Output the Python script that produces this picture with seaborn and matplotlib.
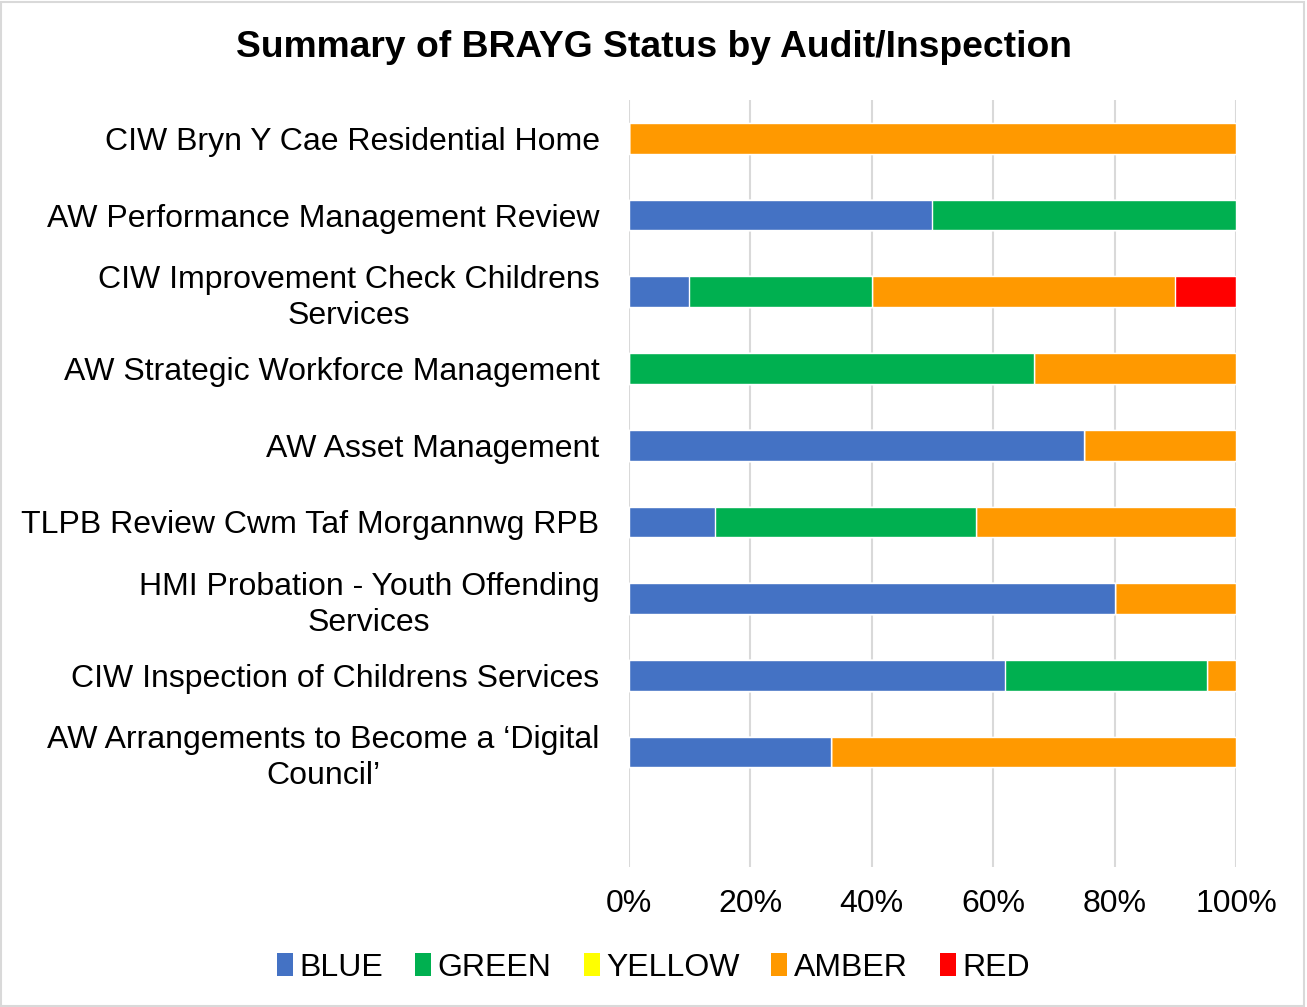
import numpy as np
import pandas as pd
import seaborn as sns
import matplotlib.pyplot as plt
from matplotlib.patches import Patch, Rectangle
from matplotlib.ticker import PercentFormatter

categories = [
    "CIW Bryn Y Cae Residential Home",
    "AW Performance Management Review",
    "CIW Improvement Check Childrens\nServices",
    "AW Strategic Workforce Management",
    "AW Asset Management",
    "TLPB Review Cwm Taf Morgannwg RPB",
    "HMI Probation - Youth Offending\nServices",
    "CIW Inspection of Childrens Services",
    "AW Arrangements to Become a \u2018Digital\nCouncil\u2019",
]
# counts of recommendations per status
blue = [0, 1, 1, 0, 3, 1, 4, 13, 1]
green = [0, 1, 3, 2, 0, 3, 0, 7, 0]
yellow = [0, 0, 0, 0, 0, 0, 0, 0, 0]
amber = [1, 0, 5, 1, 1, 3, 1, 1, 2]
red = [0, 0, 1, 0, 0, 0, 0, 0, 0]

statuses = ["BLUE", "GREEN", "YELLOW", "AMBER", "RED"]
colors = ["#4472C4", "#00B050", "#FFFF00", "#FF9900", "#FF0000"]

df = pd.DataFrame({"BLUE": blue, "GREEN": green, "YELLOW": yellow,
                   "AMBER": amber, "RED": red}, index=categories)
share = df.div(df.sum(axis=1), axis=0) * 100
cum = share.cumsum(axis=1)

sns.set_theme(style="white")
plt.rcParams["font.family"] = ["Liberation Sans", "DejaVu Sans"]
plt.rcParams["text.color"] = "black"
plt.rcParams["xtick.color"] = "black"
plt.rcParams["ytick.color"] = "black"

fig = plt.figure(figsize=(13.07, 10.07), dpi=100)
ax = fig.add_axes([0.481, 0.139, 0.4647, 0.7617])

# overlay cumulative bars, longest first
for status, col in reversed(list(zip(statuses, colors))):
    sns.barplot(x=cum[status].values, y=list(range(len(categories))), orient="h",
                color=col, saturation=1, width=0.4, edgecolor="white", linewidth=1,
                ax=ax, native_scale=True)

ax.set_xlim(0, 100)
ax.set_ylim(9.5, -0.5)
ax.set_xticks(np.arange(0, 101, 20))
ax.xaxis.set_major_formatter(PercentFormatter(decimals=0))
ax.set_yticks(range(len(categories)))
ax.set_yticklabels(categories, multialignment="center", linespacing=1.25)
ax.tick_params(axis="y", labelsize=23, pad=21, length=0)
ax.tick_params(axis="x", labelsize=23, pad=16, length=0)
ax.xaxis.grid(True, color="#D9D9D9", linewidth=1.5)
ax.set_axisbelow(True)
for s in ax.spines.values():
    s.set_visible(False)
ax.set_xlabel("")
ax.set_ylabel("")

fig.suptitle("Summary of BRAYG Status by Audit/Inspection", fontsize=26.8,
             fontweight="bold", x=0.5, y=0.97)

handles = [Patch(facecolor=c, edgecolor="none") for c in colors]
fig.legend(handles, statuses, loc="center", bbox_to_anchor=(0.5, 0.039), ncol=5,
           frameon=False, fontsize=23, handlelength=0.5, handleheight=0.7,
           handletextpad=0.2, columnspacing=1.0)

fig.patches.append(Rectangle((0.001, 0.001), 0.997, 0.997, transform=fig.transFigure,
                             fill=False, edgecolor="#D9D9D9", linewidth=1.5))

fig.savefig("out.png", dpi=100, facecolor="white")
